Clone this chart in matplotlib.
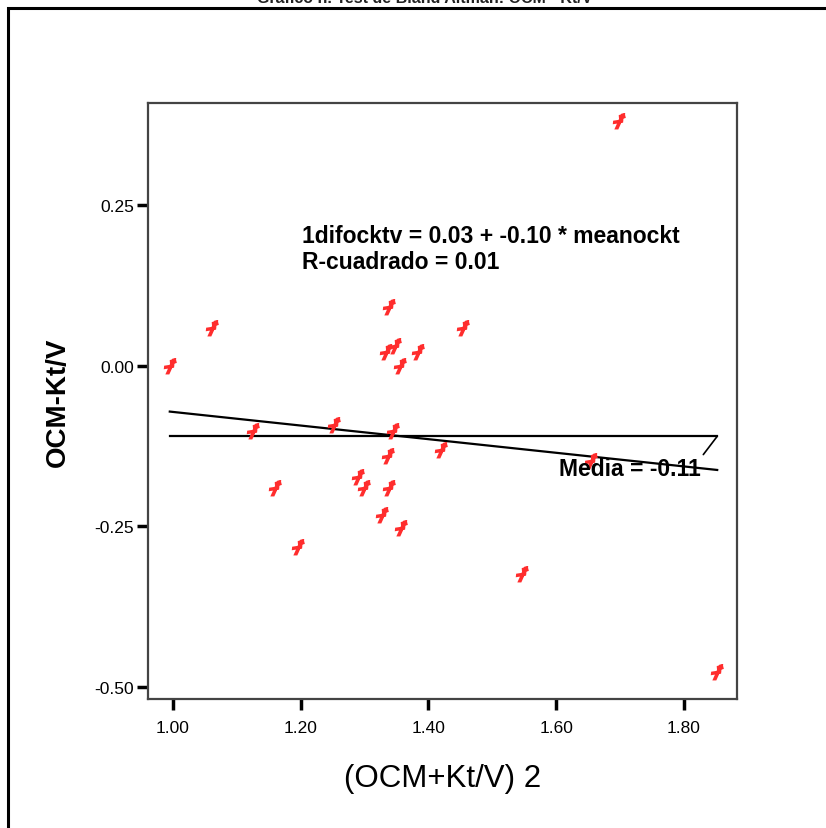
import numpy as np
import matplotlib
matplotlib.use("Agg")
import matplotlib.pyplot as plt
from matplotlib.path import Path
from matplotlib.patches import Rectangle

plt.rcParams['font.family'] = ['Liberation Sans', 'DejaVu Sans']
plt.rcParams['axes.unicode_minus'] = False

# ---- data ----
mean_x = [0.995, 1.061, 1.125, 1.160, 1.196, 1.252, 1.290, 1.299, 1.327, 1.333,
          1.337, 1.338, 1.338, 1.348, 1.344, 1.355, 1.357, 1.384, 1.420, 1.454,
          1.546, 1.654, 1.698, 1.852]
diff_y = [0.000, 0.059, -0.101, -0.191, -0.282, -0.092, -0.173, -0.191, -0.233, 0.022,
          -0.140, -0.191, 0.092, 0.030, -0.101, 0.000, -0.252, 0.022, -0.131, 0.059,
          -0.324, -0.149, 0.381, -0.476]
mean_value = -0.11
reg_intercept = 0.034
reg_slope = -0.106

xticks = [1.00, 1.20, 1.40, 1.60, 1.80]
yticks = [-0.50, -0.25, 0.00, 0.25]

title = "Gráfico n. Test de Bland Altman: OCM - Kt/V"
xlabel = "(OCM+Kt/V) 2"
ylabel = "OCM-Kt/V"
eq_text = "1difocktv = 0.03 + -0.10 * meanockt\nR-cuadrado = 0.01"
mean_text = "Media = -0.11"

# ---- figure ----
W, H = 826, 829
fig = plt.figure(figsize=(W / 100, H / 100), dpi=100)
fig.patch.set_facecolor('white')

# outer frame (extends beyond the image on right and bottom)
fig.patches.append(Rectangle((8 / W, -0.05), 1.2, 1 - 9 / H + 0.05,
                             transform=fig.transFigure, fill=False,
                             edgecolor='black', linewidth=2.2))
# title, mostly cut off at the top edge as in the reference
fig.text(425 / W, 1 - 3 / H, title, ha='center', va='baseline',
         fontsize=11.5, fontweight='bold', color='#222222')

ax = fig.add_axes([148 / W, 1 - 700 / H, (737 - 148) / W, (700 - 104) / H])
ax.set_xlim(0.9609, 1.883)
ax.set_ylim(-0.5187, 0.4087)

# pushpin-like marker
verts = [(-0.65, -1.0), (-0.15, -1.0), (0.75, 1.0), (0.25, 1.0), (-0.65, -1.0),
         (-0.85, -0.35), (0.45, -0.15), (0.5, 0.3), (-0.8, 0.1), (-0.85, -0.35),
         (-0.05, 0.2), (0.8, 0.45), (0.65, 1.05), (-0.1, 0.8), (-0.05, 0.2)]
codes = ([Path.MOVETO] + [Path.LINETO] * 3 + [Path.CLOSEPOLY]) * 3
pin = Path(verts, codes)

ax.plot(mean_x, diff_y, linestyle='none', marker=pin, markersize=12,
        color='#ff2d2d', markeredgewidth=0, zorder=3)

xs = np.array(mean_x)
xline = np.array([xs.min(), xs.max()])
ax.plot(xline, reg_intercept + reg_slope * xline, color='black', lw=1.6, zorder=2)
ax.plot(xline, [mean_value, mean_value], color='black', lw=1.6, zorder=2)

ax.annotate(mean_text, xy=(xs.max(), mean_value), xytext=(-16, -21),
            textcoords='offset pixels', ha='right', va='top',
            fontsize=16.5, fontweight='bold',
            arrowprops=dict(arrowstyle='-', color='black', lw=1.2,
                            shrinkA=0, shrinkB=0, relpos=(1, 1)))

ax.text(0.2615, 0.797, eq_text, transform=ax.transAxes, ha='left', va='top',
        fontsize=16.5, fontweight='bold', linespacing=1.16)

ax.set_xticks(xticks)
ax.set_xticklabels([f"{v:.2f}" for v in xticks])
ax.set_yticks(yticks)
ax.set_yticklabels([f"{v:.2f}" for v in yticks])
ax.tick_params(axis='both', direction='out', length=8, width=2.5,
               labelsize=12.5, colors='black', pad=2)
ax.tick_params(axis='x', pad=7)
ax.tick_params(top=False, right=False)

for s in ax.spines.values():
    s.set_color('#444444')
    s.set_linewidth(1.6)

ax.set_xlabel(xlabel, fontsize=22.5, labelpad=20)
ax.set_ylabel(ylabel, fontsize=20, fontweight='bold', labelpad=17)

fig.savefig("out.png", dpi=100, facecolor='white')
